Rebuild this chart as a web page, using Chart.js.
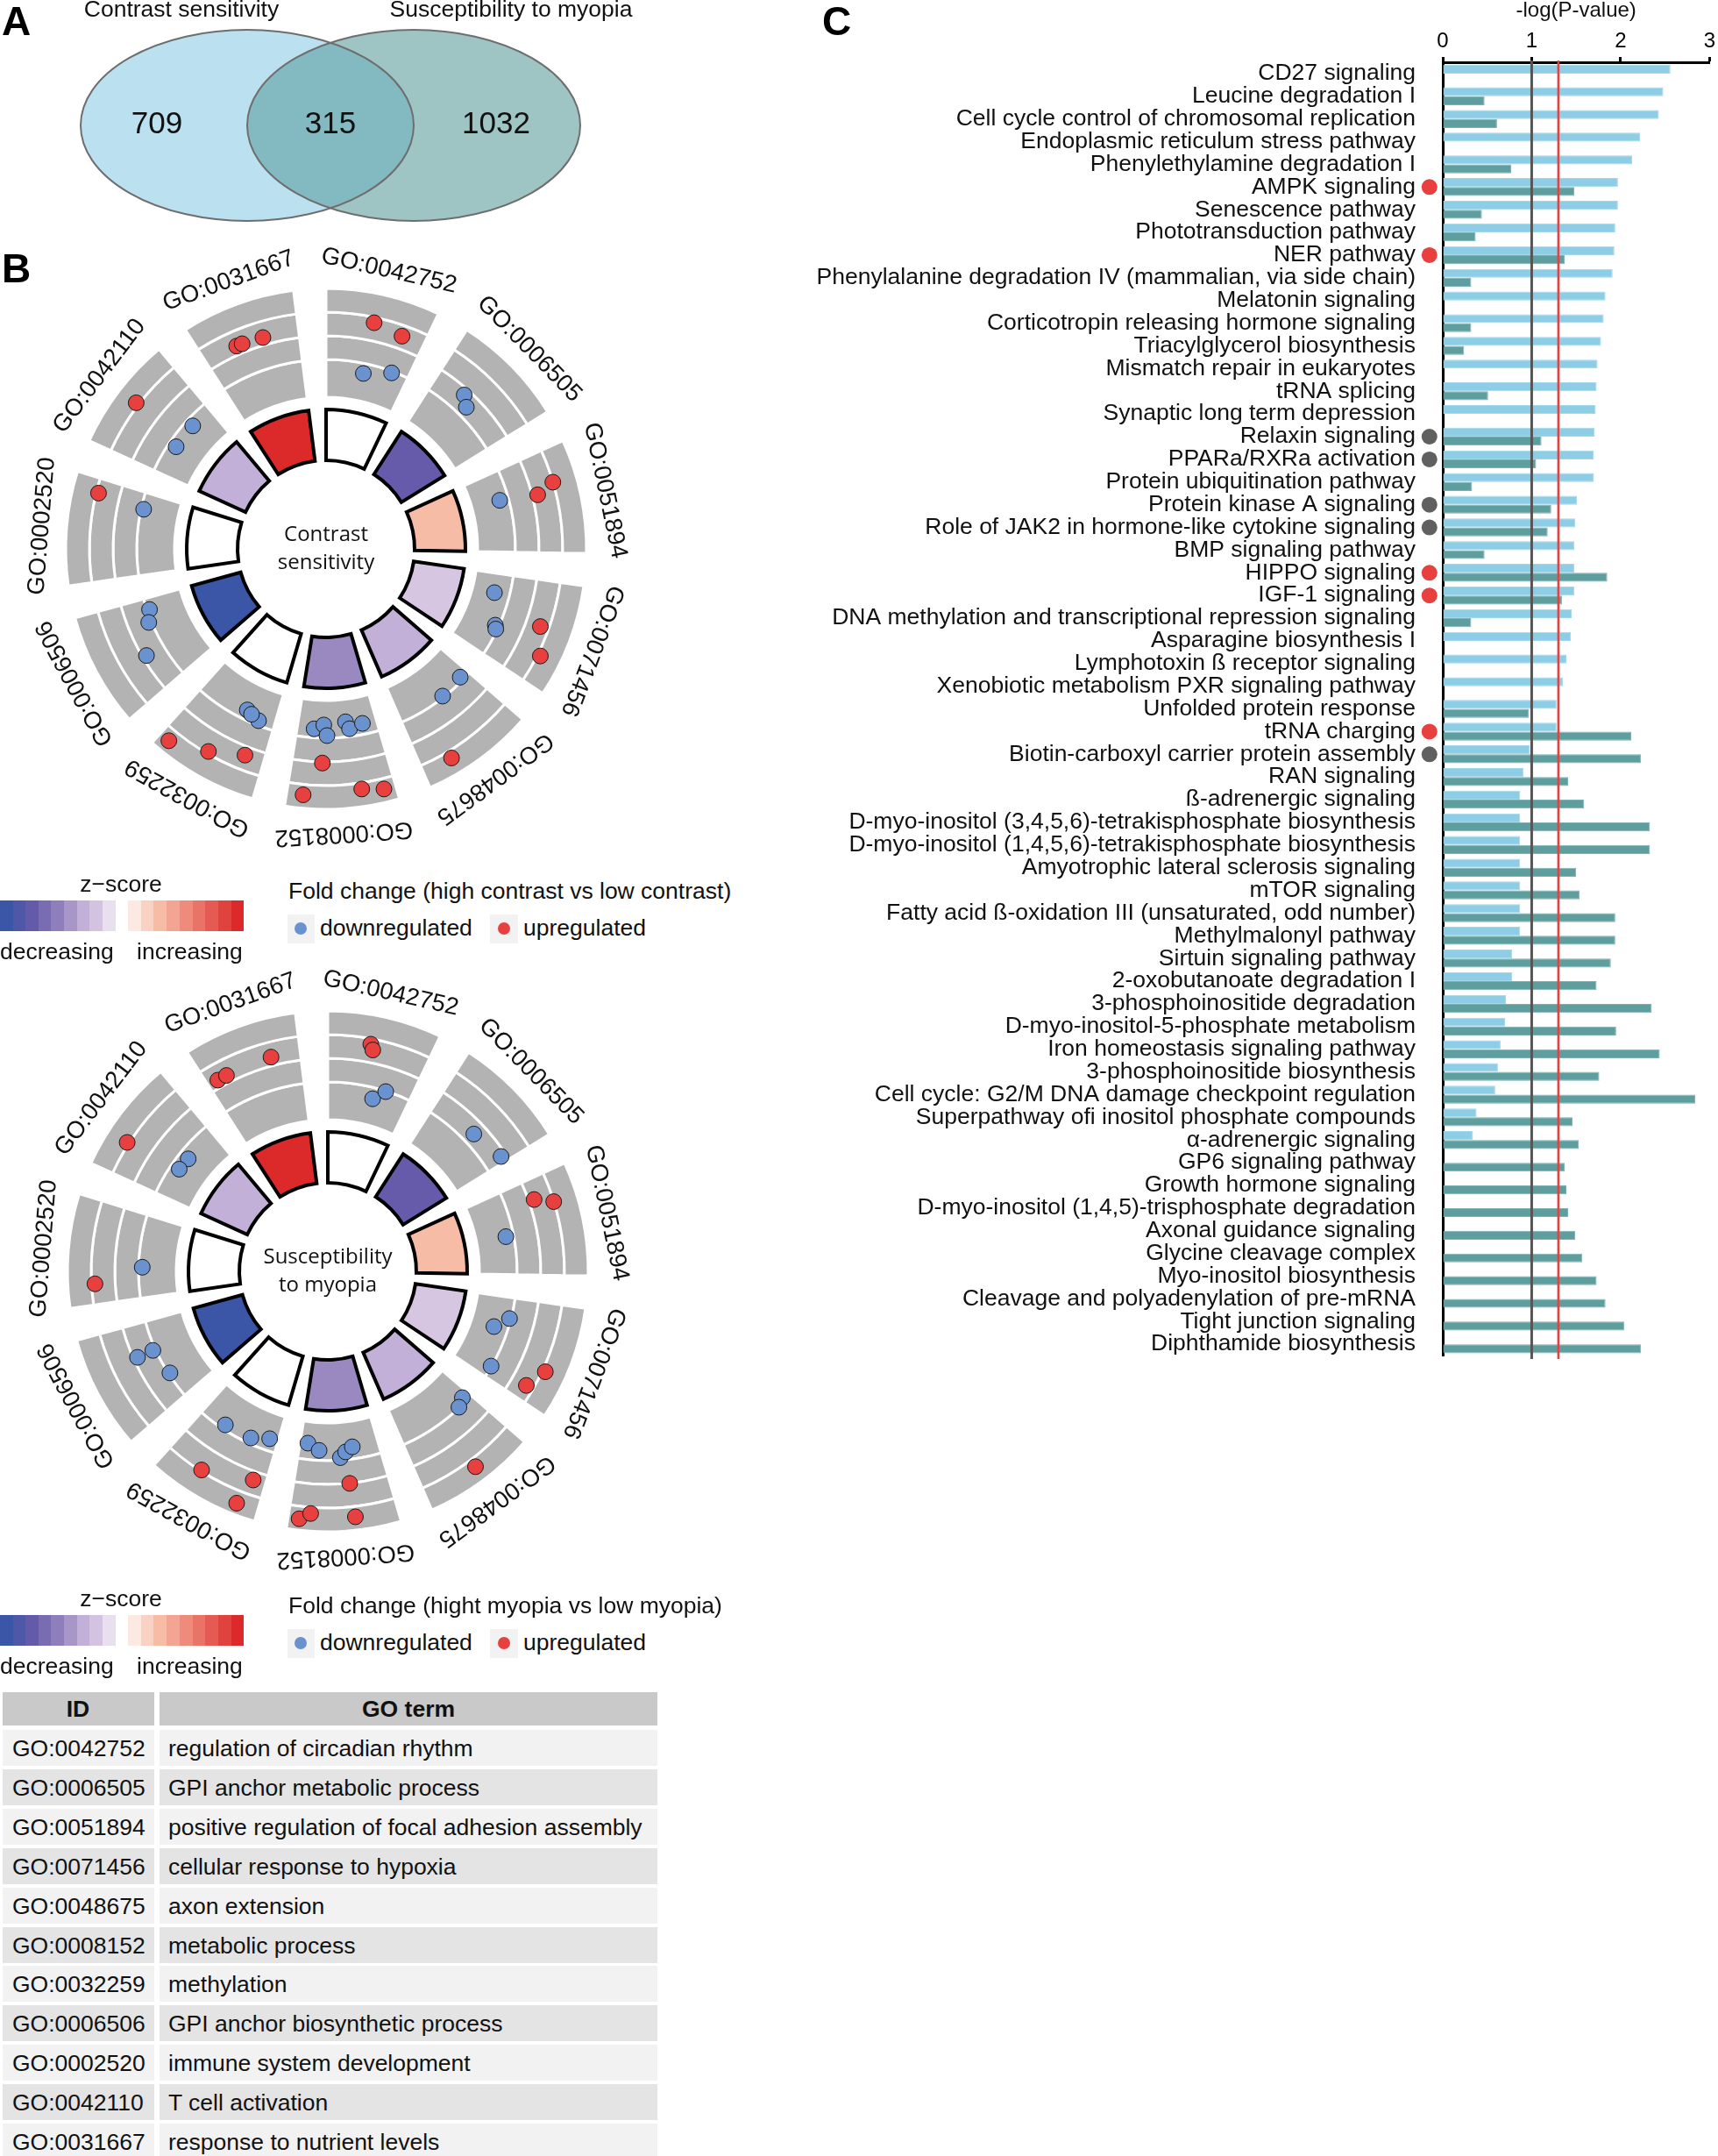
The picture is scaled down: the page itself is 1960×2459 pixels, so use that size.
<!DOCTYPE html>
<html lang="en">
<head>
<meta charset="UTF-8">
<title>Contrast sensitivity and susceptibility to myopia</title>
<script src="https://cdn.jsdelivr.net/npm/chart.js@4"></script>
<style>
  body { margin: 0; background: #fff; font-family: "Liberation Sans", Arial, sans-serif; color: #111; }
  #fig { position: relative; width: 1960px; height: 2459px; overflow: hidden; }
  #fig canvas { position: absolute; }
  .abs { position: absolute; white-space: nowrap; line-height: 1; }
  .plabel { font-weight: bold; font-size: 46px; color: #000; }
  .t { font-size: 26.5px; }
  .box { position: absolute; }
</style>
</head>
<body>
<div id="fig">
  <canvas id="venn" width="760" height="270" style="left:0;top:0"></canvas>
  <canvas id="ring1" width="740" height="740"></canvas>
  <canvas id="dots1" width="740" height="740"></canvas>
  <canvas id="ring2" width="740" height="740"></canvas>
  <canvas id="dots2" width="740" height="740"></canvas>
  <canvas id="bars" width="1060" height="1593" style="left:900px;top:0"></canvas>
</div>
<script>
// ---- data ----
const vennSets = ['Contrast sensitivity', 'Susceptibility to myopia'];
const vennCounts = [709, 315, 1032]; // only contrast, shared, only myopia

const goIds = ['GO:0042752', 'GO:0006505', 'GO:0051894', 'GO:0071456', 'GO:0048675', 'GO:0008152',
               'GO:0032259', 'GO:0006506', 'GO:0002520', 'GO:0042110', 'GO:0031667'];
const goTerms = ['regulation of circadian rhythm', 'GPI anchor metabolic process',
  'positive regulation of focal adhesion assembly', 'cellular response to hypoxia', 'axon extension',
  'metabolic process', 'methylation', 'GPI anchor biosynthetic process', 'immune system development',
  'T cell activation', 'response to nutrient levels'];

// z-scores of each GO term (inner ring)
const contrastZ = [0, -2.3, 1, -0.6, -1, -1.5, 0, -3, 0, -1, 3];
const myopiaZ   = [0, -2.3, 1, -0.6, -1, -1.5, 0, -3, 0, -1, 3];

// genes of each term: position along the term (0..1) and logFC
const contrastPos = [
  [0.47, 0.77, 0.47, 0.80], [0.36, 0.47], [0.35, 0.40, 0.32], [0.25, 0.63, 0.67, 0.46, 0.72],
  [0.11, 0.42, 0.71], [0.79, 0.67, 0.63, 0.39, 0.35, 0.18, 0.68, 0.85, 0.31, 0.11],
  [0.38, 0.20, 0.31, 0.90, 0.54, 0.20], [0.86, 0.72, 0.40], [0.86, 0.80], [0.51, 0.71, 0.38],
  [0.35, 0.41, 0.63]
];
const contrastLfc = [
  [0.95, 0.7, -1.5, -1.1], [-0.2, -0.55], [-1.45, 0.35, 1.2], [-1.75, -1.2, -1.1, 0.8, 1.35],
  [-1.2, -1.1, 1.55], [-1.45, -1.65, -1.15, -1.75, -1.4, -1.55, 0.15, 1.7, 1.5, 1.7],
  [-1.5, -1.25, -1.4, 1.75, 1.1, 0.5], [-1.15, -0.9, -0.1], [1.1, -1.15], [1.35, -1.4, -1.4],
  [0.5, 0.5, 0.45]
];
const myopiaPos = [
  [0.42, 0.45, 0.57, 0.70], [0.55, 0.93], [0.21, 0.29, 0.53], [0.40, 0.25, 0.86, 0.65, 0.85],
  [0.09, 0.20, 0.47], [0.90, 0.75, 0.49, 0.42, 0.33, 0.41, 0.90, 0.80, 0.39],
  [0.68, 0.33, 0.11, 0.63, 0.13, 0.20], [0.65, 0.65, 0.32], [0.20, 0.37], [0.32, 0.56, 0.39],
  [0.11, 0.21, 0.70]
];
const myopiaLfc = [
  [0.95, 0.7, -1.55, -1.05], [-0.5, -0.15], [0.35, 1.2, -1.4], [-1.7, -1.1, -1.05, 1.35, 0.85],
  [-1.25, -1.05, 1.6], [-1.8, -1.5, -1.15, -1.4, -1.6, 0.1, 1.8, 1.5, 1.7],
  [-1.25, -1.3, -1.6, 1.15, 0.5, 1.8], [-0.1, -0.9, -1.1], [1.05, -1.2], [1.3, -1.5, -1.45],
  [0.45, 0.45, 0.5]
];
const lfcMin = -3, lfcMax = 2;
const zLegendLow  = [-3, -2.67, -2.33, -2, -1.67, -1.33, -1, -0.67, -0.33];
const zLegendHigh = [0.33, 0.67, 1, 1.33, 1.67, 2, 2.33, 2.67, 3];

const pathways = [
  'CD27 signaling', 'Leucine degradation I', 'Cell cycle control of chromosomal replication',
  'Endoplasmic reticulum stress pathway', 'Phenylethylamine degradation I', 'AMPK signaling',
  'Senescence pathway', 'Phototransduction pathway', 'NER pathway',
  'Phenylalanine degradation IV (mammalian, via side chain)', 'Melatonin signaling',
  'Corticotropin releasing hormone signaling', 'Triacylglycerol biosynthesis',
  'Mismatch repair in eukaryotes', 'tRNA splicing', 'Synaptic long term depression',
  'Relaxin signaling', 'PPARa/RXRa activation', 'Protein ubiquitination pathway',
  'Protein kinase A signaling', 'Role of JAK2 in hormone-like cytokine signaling', 'BMP signaling pathway',
  'HIPPO signaling', 'IGF-1 signaling', 'DNA methylation and transcriptional repression signaling',
  'Asparagine biosynthesis I', 'Lymphotoxin ß receptor signaling', 'Xenobiotic metabolism PXR signaling pathway',
  'Unfolded protein response', 'tRNA charging', 'Biotin-carboxyl carrier protein assembly', 'RAN signaling',
  'ß-adrenergic signaling', 'D-myo-inositol (3,4,5,6)-tetrakisphosphate biosynthesis',
  'D-myo-inositol (1,4,5,6)-tetrakisphosphate biosynthesis', 'Amyotrophic lateral sclerosis signaling',
  'mTOR signaling', 'Fatty acid ß-oxidation III (unsaturated, odd number)', 'Methylmalonyl pathway',
  'Sirtuin signaling pathway', '2-oxobutanoate degradation I', '3-phosphoinositide degradation',
  'D-myo-inositol-5-phosphate metabolism', 'Iron homeostasis signaling pathway',
  '3-phosphoinositide biosynthesis', 'Cell cycle: G2/M DNA damage checkpoint regulation',
  'Superpathway ofi inositol phosphate compounds', 'α-adrenergic signaling', 'GP6 signaling pathway',
  'Growth hormone signaling', 'D-myo-inositol (1,4,5)-trisphosphate degradation', 'Axonal guidance signaling',
  'Glycine cleavage complex', 'Myo-inositol biosynthesis', 'Cleavage and polyadenylation of pre-mRNA',
  'Tight junction signaling', 'Diphthamide biosynthesis'
];
const contrastLogP = [2.56, 2.48, 2.43, 2.22, 2.13, 1.97, 1.97, 1.94, 1.93, 1.91, 1.83, 1.81, 1.78, 1.74,
  1.73, 1.72, 1.71, 1.70, 1.70, 1.51, 1.49, 1.48, 1.48, 1.48, 1.45, 1.44, 1.39, 1.35, 1.28, 1.28, 0.98,
  0.91, 0.87, 0.87, 0.87, 0.87, 0.87, 0.87, 0.87, 0.78, 0.78, 0.71, 0.70, 0.65, 0.62, 0.59, 0.38, 0.34,
  null, null, null, null, null, null, null, null, null];
const myopiaLogP = [null, 0.47, 0.61, null, 0.77, 1.48, 0.44, 0.37, 1.37, 0.32, null, 0.32, 0.24, null,
  0.51, null, 1.11, 1.05, 0.33, 1.22, 1.18, 0.47, 1.85, 1.34, 0.32, null, null, null, 0.97, 2.12, 2.23,
  1.41, 1.59, 2.33, 2.33, 1.50, 1.54, 1.94, 1.94, 1.89, 1.73, 2.35, 1.95, 2.44, 1.76, 2.84, 1.46, 1.53,
  1.37, 1.39, 1.41, 1.49, 1.57, 1.73, 1.83, 2.04, 2.23];
const upMarked = ['AMPK signaling', 'NER pathway', 'HIPPO signaling', 'IGF-1 signaling', 'tRNA charging'];
const grayMarked = ['Relaxin signaling', 'PPARa/RXRa activation', 'Protein kinase A signaling',
  'Role of JAK2 in hormone-like cytokine signaling', 'Biotin-carboxyl carrier protein assembly'];
const thresholds = [1, 1.3];

// ---- helpers ----
const FONT = '"Liberation Sans", Arial, sans-serif';
Chart.defaults.font.family = FONT;
Chart.defaults.color = '#111';
const fig = document.getElementById('fig');
const BLUE = '#6a92ce', RED = '#e8403e', GRAYDOT = '#606060';

const zStops = [[-3, [60, 86, 167]], [-2.3, [101, 91, 170]], [-1.5, [154, 136, 193]], [-1, [194, 176, 216]],
  [-0.6, [214, 198, 226]], [0, [255, 255, 255]], [1, [247, 188, 166]], [3, [220, 42, 42]]];
function zColor(z) {
  z = Math.max(-3, Math.min(3, z));
  for (let i = 1; i < zStops.length; i++) {
    if (z <= zStops[i][0]) {
      const [z0, c0] = zStops[i - 1], [z1, c1] = zStops[i];
      const t = (z - z0) / (z1 - z0);
      return 'rgb(' + c0.map((c, k) => Math.round(c + (c1[k] - c) * t)).join(',') + ')';
    }
  }
}
function addText(txt, x, y, align, cls) {
  const d = document.createElement('div');
  d.className = 'abs ' + (cls || 't');
  d.textContent = txt;
  d.style.left = x + 'px';
  d.style.top = y + 'px';
  d.style.transform = align === 'center' ? 'translate(-50%,-50%)' : 'translate(0,-50%)';
  fig.appendChild(d);
  return d;
}
function addBox(x, y, w, h, color) {
  const d = document.createElement('div');
  d.className = 'box';
  Object.assign(d.style, { left: x + 'px', top: y + 'px', width: w + 'px', height: h + 'px', background: color });
  fig.appendChild(d);
  return d;
}

// ---- A: venn ----
const vennLayout = { shapes: [{ cx: 282, cy: 143, rx: 190, ry: 109 }, { cx: 472, cy: 143, rx: 190, ry: 109 }],
  countX: [179, 377, 566], countY: 142, titleX: [207, 583], titleY: 12 };
const vennPlugin = {
  id: 'venn',
  afterDraw(chart) {
    const { ctx, scales: { x, y } } = chart;
    const E = vennLayout.shapes.map(s => ({
      cx: x.getPixelForValue(s.cx), cy: y.getPixelForValue(s.cy),
      rx: x.getPixelForValue(s.cx + s.rx) - x.getPixelForValue(s.cx),
      ry: Math.abs(y.getPixelForValue(s.cy + s.ry) - y.getPixelForValue(s.cy))
    }));
    const path = e => { ctx.beginPath(); ctx.ellipse(e.cx, e.cy, e.rx, e.ry, 0, 0, Math.PI * 2); };
    ctx.save();
    path(E[0]); ctx.fillStyle = '#bbe0ef'; ctx.fill();
    path(E[1]); ctx.fillStyle = '#9fc4c4'; ctx.fill();
    ctx.save(); path(E[0]); ctx.clip(); path(E[1]); ctx.fillStyle = '#83b9c1'; ctx.fill(); ctx.restore();
    ctx.strokeStyle = '#6e6e6e'; ctx.lineWidth = 2;
    path(E[0]); ctx.stroke(); path(E[1]); ctx.stroke();
    ctx.fillStyle = '#111'; ctx.textAlign = 'center'; ctx.textBaseline = 'middle';
    ctx.font = '35px ' + FONT;
    vennCounts.forEach((c, i) => ctx.fillText(String(c), x.getPixelForValue(vennLayout.countX[i]), y.getPixelForValue(vennLayout.countY)));
    ctx.font = '26.5px ' + FONT;
    vennSets.forEach((s, i) => ctx.fillText(s, x.getPixelForValue(vennLayout.titleX[i]), y.getPixelForValue(vennLayout.titleY)));
    ctx.restore();
  }
};
new Chart(document.getElementById('venn'), {
  type: 'scatter',
  data: { datasets: [] },
  options: {
    responsive: false, animation: false, events: [],
    plugins: { legend: { display: false }, tooltip: { enabled: false } },
    scales: { x: { min: 0, max: 760, display: false }, y: { min: 0, max: 270, reverse: true, display: false } }
  },
  plugins: [vennPlugin]
});

// ---- B: GO circles ----
// ring radii: inner z-score ring 101..159, grey logFC tracks 173..297 (outer three 27px, inner 43px)
const segFrac = 0.78, ringOut = 297, ringCut = 101, trackIn = 173, trackOut = 297, labelR = 325, HALF = 370;
const trackWeights = [27, 27, 27, 43];
function goCircle(ringId, dotId, cx, cy, zs, pos, lfc, centerLines) {
  const ringCanvas = document.getElementById(ringId), dotCanvas = document.getElementById(dotId);
  [ringCanvas, dotCanvas].forEach(c => { c.style.left = (cx - HALF) + 'px'; c.style.top = (cy - HALF) + 'px'; });
  const segDeg = 360 / goIds.length;
  const slices = [];
  goIds.forEach(() => slices.push(segDeg * segFrac, segDeg * (1 - segFrac)));
  const clear = 'rgba(0,0,0,0)';
  const datasets = trackWeights.map(w => ({
    data: slices, weight: w, borderColor: '#fff',
    backgroundColor: slices.map((_, k) => k % 2 ? clear : '#b3b3b3'),
    borderWidth: slices.map((_, k) => k % 2 ? 0 : 3)
  }));
  datasets.push(
    { data: slices, weight: trackIn - 159, backgroundColor: clear, borderWidth: 0 },
    { data: slices, weight: 159 - ringCut, borderColor: '#000', borderJoinStyle: 'miter',
      backgroundColor: slices.map((_, k) => k % 2 ? clear : zColor(zs[k >> 1])),
      borderWidth: slices.map((_, k) => k % 2 ? 0 : 4) });
  new Chart(ringCanvas, {
    type: 'doughnut',
    data: { datasets },
    options: {
      responsive: false, animation: false, events: [],
      radius: ringOut, cutout: (ringCut / ringOut * 100).toFixed(3) + '%',
      plugins: { legend: { display: false }, tooltip: { enabled: false } }
    }
  });

  const down = [], up = [];
  pos.forEach((arr, i) => arr.forEach((p, j) => {
    const v = lfc[i][j];
    const ang = (i + p * segFrac) * segDeg * Math.PI / 180;
    const r = trackIn + (v - lfcMin) / (lfcMax - lfcMin) * (trackOut - trackIn);
    (v < 0 ? down : up).push({ x: r * Math.sin(ang), y: r * Math.cos(ang) });
  }));
  const labels = {
    id: 'goLabels',
    afterDatasetsDraw(chart) {
      const { ctx, scales: { x, y } } = chart;
      const px = x.getPixelForValue(0), py = y.getPixelForValue(0);
      const seg = 2 * Math.PI / goIds.length;
      ctx.save();
      ctx.fillStyle = '#111'; ctx.textAlign = 'center'; ctx.textBaseline = 'middle';
      ctx.font = '27.5px ' + FONT;
      goIds.forEach((id, i) => {
        ctx.save(); ctx.translate(px, py); ctx.rotate((i + segFrac / 2) * seg);
        ctx.fillText(id, 0, -labelR); ctx.restore();
      });
      ctx.font = '24px "Open Sans", "Noto Sans", sans-serif';
      centerLines.forEach((t, k) => ctx.fillText(t, px, py + (k - (centerLines.length - 1) / 2) * 32));
      ctx.restore();
    }
  };
  new Chart(dotCanvas, {
    type: 'scatter',
    data: { datasets: [
      { label: 'downregulated', data: down, backgroundColor: BLUE, borderColor: '#1a1a1a', borderWidth: 1, pointRadius: 9 },
      { label: 'upregulated', data: up, backgroundColor: RED, borderColor: '#1a1a1a', borderWidth: 1, pointRadius: 9 }
    ] },
    options: {
      responsive: false, animation: false, events: [],
      plugins: { legend: { display: false }, tooltip: { enabled: false } },
      scales: { x: { min: -HALF, max: HALF, display: false }, y: { min: -HALF, max: HALF, display: false } }
    },
    plugins: [labels]
  });
}
goCircle('ring1', 'dots1', 372, 626, contrastZ, contrastPos, contrastLfc, ['Contrast', 'sensitivity']);
goCircle('ring2', 'dots2', 374, 1450, myopiaZ, myopiaPos, myopiaLfc, ['Susceptibility', 'to myopia']);

function zLegend(base, title) {
  addText('z−score', 138, base, 'center');
  zLegendLow.forEach((z, i) => addBox(i * 14.6, base + 19, 14.8, 35, zColor(z)));
  zLegendHigh.forEach((z, i) => addBox(146 + i * 14.7, base + 19, 14.9, 35, zColor(z)));
  addText('decreasing', 0, base + 77);
  addText('increasing', 156, base + 77);
  addText(title, 329, base + 8);
  addBox(328, base + 35, 31, 33, '#f2f2f2');
  const b = addBox(336, base + 44, 14, 14, BLUE); b.style.borderRadius = '50%';
  addText('downregulated', 365, base + 50);
  addBox(559, base + 35, 32, 33, '#f2f2f2');
  const r = addBox(568, base + 44, 14, 14, RED); r.style.borderRadius = '50%';
  addText('upregulated', 597, base + 50);
}
zLegend(1008, 'Fold change (high contrast vs low contrast)');
zLegend(1823, 'Fold change (hight myopia vs low myopia)');

// table of GO terms
addBox(3, 1930, 173, 38, '#c9c9c9');
addBox(182, 1930, 568, 38, '#c9c9c9');
addText('ID', 89, 1949, 'center').style.fontWeight = 'bold';
addText('GO term', 466, 1949, 'center').style.fontWeight = 'bold';
goIds.forEach((id, i) => {
  const top = 1973 + i * 44.9, bg = i % 2 ? '#e4e4e4' : '#f2f2f2';
  addBox(3, top, 173, 41, bg);
  addBox(182, top, 568, 41, bg);
  addText(id, 14, top + 21);
  addText(goTerms[i], 192, top + 21);
});

// ---- C: pathway bars ----
const markX = -0.15;
const refLines = {
  id: 'refLines',
  afterDatasetsDraw(chart) {
    const { ctx, chartArea, scales: { x, y } } = chart;
    ctx.save();
    [['#555', 3], [RED, 2.5]].forEach(([c, w], i) => {
      const px = x.getPixelForValue(thresholds[i]);
      ctx.strokeStyle = c; ctx.lineWidth = w;
      ctx.beginPath(); ctx.moveTo(px, chartArea.top - 2); ctx.lineTo(px, chartArea.bottom + 4); ctx.stroke();
    });
    // pathways shared with the GO analysis, marked left of the axis
    [[upMarked, RED], [grayMarked, GRAYDOT]].forEach(([list, color]) => {
      ctx.fillStyle = color;
      list.forEach(l => {
        ctx.beginPath();
        ctx.arc(x.getPixelForValue(markX), y.getPixelForValue(pathways.indexOf(l)), 9, 0, Math.PI * 2);
        ctx.fill();
      });
    });
    ctx.restore();
  }
};
new Chart(document.getElementById('bars'), {
  type: 'bar',
  data: {
    labels: pathways,
    datasets: [
      { label: 'Contrast sensitivity', data: contrastLogP, backgroundColor: '#8dcde6', borderColor: '#a3d8ec',
        borderWidth: 1, barPercentage: 1, categoryPercentage: 0.79 },
      { label: 'Susceptibility to myopia', data: myopiaLogP, backgroundColor: '#5f9e9e', borderColor: '#7db0b0',
        borderWidth: 1, barPercentage: 1, categoryPercentage: 0.79 }
    ]
  },
  options: {
    indexAxis: 'y', responsive: false, animation: false, events: [],
    layout: { padding: { right: 5, bottom: 0, top: 0, left: 0 } },
    plugins: { legend: { display: false }, tooltip: { enabled: false } },
    scales: {
      x: {
        position: 'top', min: 0, max: 3,
        ticks: { stepSize: 1, padding: 3, color: '#000', font: { size: 24 } },
        grid: { drawOnChartArea: false, drawTicks: true, tickLength: 6, tickWidth: 3, tickColor: '#000' },
        border: { display: true, color: '#000', width: 3 },
        title: { display: true, text: '-log(P-value)', color: '#111', font: { size: 24, lineHeight: 1 }, padding: 0 },
        afterFit(s) { s.height = 71; }
      },
      y: {
        ticks: { autoSkip: false, padding: 31, color: '#111', font: { size: 26.5 } },
        grid: { display: false, drawTicks: false },
        border: { display: true, color: '#000', width: 3 },
        afterFit(s) { s.width = 746; }
      }
    }
  },
  plugins: [refLines]
});

// panel letters
addText('A', 2, 24, 'left', 'plabel');
addText('B', 2, 306, 'left', 'plabel');
addText('C', 938, 24, 'left', 'plabel');
</script>
</body>
</html>
